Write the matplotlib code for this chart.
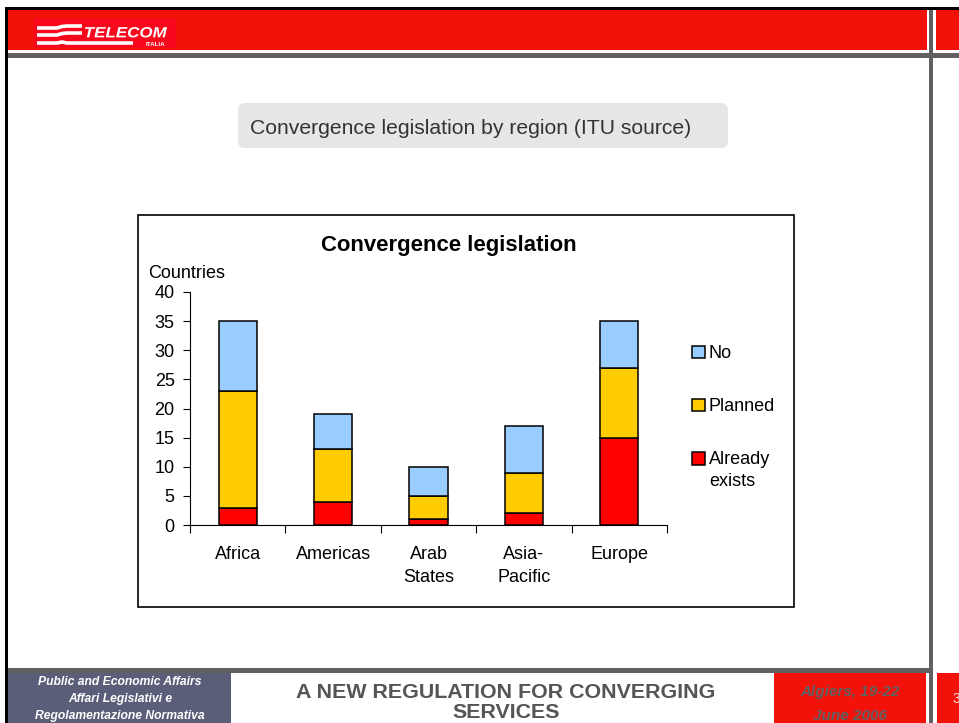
import matplotlib.pyplot as plt
from matplotlib.patches import Rectangle, FancyBboxPatch, PathPatch
from matplotlib.textpath import TextPath
from matplotlib.font_manager import FontProperties
from matplotlib.transforms import Affine2D

regions = ["Africa", "Americas", "Arab\nStates", "Asia-\nPacific", "Europe"]
already_exists = [3, 4, 1, 2, 15]
planned = [20, 9, 4, 7, 12]
no = [12, 6, 5, 8, 8]

series_names = ["Already exists", "Planned", "No"]
series_colors = ["#FF0000", "#FFCC00", "#99CCFF"]

y_ticks = [0, 5, 10, 15, 20, 25, 30, 35, 40]

FONT = "Liberation Sans"
W, H = 959, 723

fig = plt.figure(figsize=(9.59, 7.23), dpi=100)

# slide background drawn in pixel coordinates
bg = fig.add_axes([0, 0, 1, 1])
bg.set_xlim(0, W)
bg.set_ylim(H, 0)
bg.axis("off")


def rect(x0, y0, x1, y1, color, z=1, **kw):
    bg.add_patch(Rectangle((x0, y0), x1 - x0, y1 - y0, facecolor=color,
                           edgecolor="none", zorder=z, **kw))


# header
rect(0, 0, W, H, "white", z=0)
rect(5, 7, W, 10, "black")
rect(5, 7, 8, H, "black")
rect(8, 10, 927, 50, "#F2120A")
rect(936, 10, W, 50, "#F2120A")
rect(8, 53, W, 58, "#606060")
rect(929, 10, 933, H, "#606060")

# logo
rect(34, 18, 176, 48, "#F8081C", z=2)
for k, yy in enumerate([28, 35, 43]):
    x_end = 82 if k < 2 else 133
    xs = [37, 57, 62, 67, x_end]
    ys = [yy, yy, yy - 1.5, yy - 2, yy - 2] if k < 2 else [yy, yy, yy - 1, yy, yy]
    bg.plot(xs, ys, color="white", lw=2.6, solid_capstyle="butt",
            solid_joinstyle="round", zorder=3)
# logo lettering: fit a text path into the logo box
tp = TextPath((0, 0), "TELECOM", size=14,
              prop=FontProperties(family=FONT, weight="bold", style="italic"))
ext = tp.get_extents()
sx = (167 - 85) / ext.width
sy = 10.5 / ext.height
tr = Affine2D().translate(-ext.x0, -ext.y0).scale(sx, -sy).translate(85, 37.5)
bg.add_patch(PathPatch(tr.transform_path(tp), facecolor="white",
                       edgecolor="none", zorder=3))
bg.text(165, 44, "ITALIA", color="white", fontsize=4.5, fontweight="bold",
        family=FONT, va="center", ha="right", zorder=3)

# title box
bg.add_patch(FancyBboxPatch((241, 106), 484, 39,
                            boxstyle="round,pad=3,rounding_size=7",
                            facecolor="#E6E6E6", edgecolor="none", zorder=1))
bg.text(471, 128, "Convergence legislation by region (ITU source)",
        fontsize=15.2, family=FONT, color="#333333", ha="center", va="center",
        zorder=2)

# chart frame
bg.add_patch(Rectangle((138, 215), 656, 392, facecolor="white",
                       edgecolor="black", lw=1.2, zorder=1))
bg.text(449, 245, "Convergence legislation", fontsize=15.9, fontweight="bold",
        family=FONT, ha="center", va="center", zorder=2)
bg.text(148, 273, "Countries", fontsize=13, family=FONT, ha="left",
        va="center", zorder=2)

# footer
rect(8, 668, 929, 673, "#606060")
rect(8, 673, 231, H, "#5A5E78")
rect(774, 673, 926, H, "#F2120A")
rect(937, 673, W, H, "#F2120A")
for yy, line in zip([682, 699, 716], ["Public and Economic Affairs",
                                      "Affari Legislativi e",
                                      "Regolamentazione Normativa"]):
    bg.text(120, yy, line, color="white", fontsize=8.7, fontweight="bold",
            style="italic", family=FONT, ha="center", va="center", zorder=2)
for yy, line in zip([692, 713], ["A NEW REGULATION FOR CONVERGING", "SERVICES"]):
    bg.text(506, yy, line, color="#555555", fontsize=15.4, fontweight="bold",
            family=FONT, ha="center", va="center", zorder=2)
for yy, line in zip([692, 716], ["Algiers, 19-22", "June 2006"]):
    bg.text(850, yy, line, color="#606060", fontsize=11, fontweight="bold",
            style="italic", family=FONT, ha="center", va="center", zorder=2)
bg.text(952, 699, "3", color="#FBE0E0", fontsize=10, family=FONT,
        ha="left", va="center", zorder=2)

# bar chart
ax = fig.add_axes([190 / W, 1 - 525 / H, 477 / W, 233 / H])
x = list(range(len(regions)))
bottom = [0] * len(regions)
bars = []
for vals, color, name in zip([already_exists, planned, no], series_colors, series_names):
    b = ax.bar(x, vals, width=0.4, bottom=bottom, color=color,
               edgecolor="black", linewidth=1.1, label=name, zorder=3)
    bars.append(b)
    bottom = [a + v for a, v in zip(bottom, vals)]

ax.set_xlim(-0.5, len(regions) - 0.5)
ax.set_ylim(0, 40)
ax.set_yticks(y_ticks)
ax.set_yticklabels([str(t) for t in y_ticks], fontsize=13, family=FONT)
ax.set_xticks([i - 0.5 for i in range(len(regions) + 1)])
ax.set_xticklabels([])
ax.set_xticks(x, minor=True)
ax.set_xticklabels(regions, minor=True, fontsize=13, family=FONT,
                   linespacing=1.45, va="top")
ax.tick_params(axis="x", which="minor", length=0, pad=15)
ax.tick_params(axis="x", which="major", length=6, color="black", width=0.8)
ax.tick_params(axis="y", length=5, width=0.8, pad=6)
for s in ["top", "right"]:
    ax.spines[s].set_visible(False)
for s in ["left", "bottom"]:
    ax.spines[s].set_linewidth(0.8)
ax.patch.set_alpha(0)

# legend: the square sits beside the first line of "Already exists",
# so the second line is written just below it
handles = [bars[2], bars[1], bars[0]]
labels = ["No", "Planned", "Already"]
leg = fig.legend(handles, labels, loc="upper left",
                 bbox_to_anchor=(676 / W, 1 - 329 / H), frameon=False,
                 prop={"family": FONT, "size": 13}, handlelength=0.72,
                 handleheight=0.72, handletextpad=0.18, labelspacing=2.0)
bg.text(709, 481, "exists", fontsize=13, family=FONT, ha="left",
        va="center", zorder=2)

fig.savefig("out.png", dpi=100)
